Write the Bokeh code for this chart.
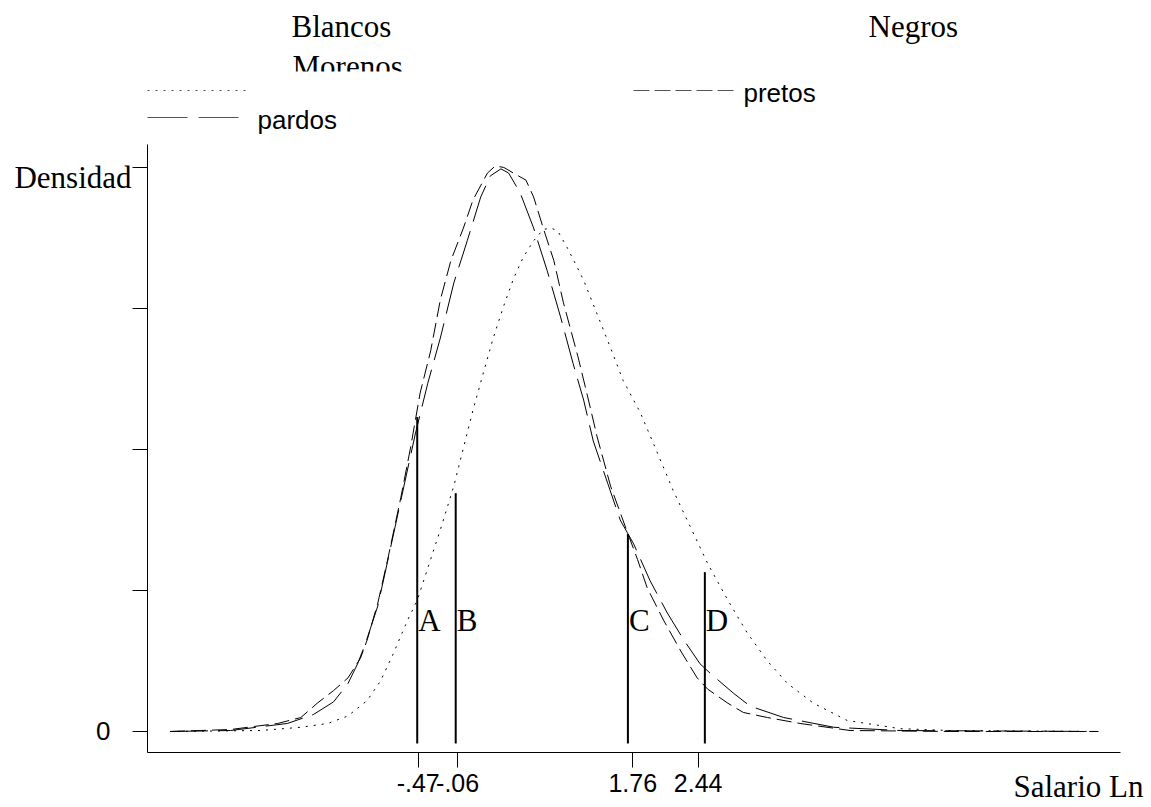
from bokeh.plotting import figure
from bokeh.layouts import column
from bokeh.models import Range1d, FixedTicker, Label
from bokeh.embed import file_html
from bokeh.resources import INLINE
from bokeh.core.properties import value

# ---- data ----
x_blancos = [-3.05, -2.11, -1.69, -1.41, -1.20, -1.00, -0.86, -0.73, -0.58, -0.48, -0.24, -0.10, 0.00, 0.10,
             0.21, 0.31, 0.42, 0.52, 0.62, 0.73, 0.83, 0.91, 0.98, 1.08, 1.14, 1.25, 1.39, 1.53, 1.66, 1.84,
             2.02, 2.18, 2.36, 2.54, 2.75, 2.95, 3.16, 3.37, 3.64, 3.99, 4.54, 5.06, 6.60]
y_blancos = [0.0, 0.0007, 0.003, 0.0057, 0.011, 0.022, 0.036, 0.055, 0.079, 0.093, 0.143, 0.174, 0.201, 0.228,
             0.255, 0.279, 0.302, 0.321, 0.336, 0.348, 0.356, 0.357, 0.355, 0.343, 0.335, 0.320, 0.296, 0.272,
             0.249, 0.226, 0.197, 0.171, 0.145, 0.119, 0.093, 0.070, 0.050, 0.034, 0.020, 0.0078, 0.002, 0.0007, 0.0]

x_pretos = [-3.05, -2.42, -1.93, -1.69, -1.52, -1.35, -1.20, -1.07, -1.00, -0.89, -0.79, -0.65, -0.55, -0.45,
            -0.34, -0.24, -0.13, 0.00, 0.10, 0.25, 0.33, 0.42, 0.52, 0.65, 0.73, 0.83, 0.94, 1.04, 1.19, 1.29,
            1.39, 1.53, 1.69, 1.81, 1.91, 2.08, 2.26, 2.43, 2.54, 2.75, 2.91, 3.16, 3.50, 4.02, 5.06, 6.60]
y_pretos = [0.0, 0.0014, 0.0057, 0.0099, 0.020, 0.029, 0.038, 0.052, 0.065, 0.091, 0.121, 0.166, 0.201, 0.240,
            0.270, 0.306, 0.334, 0.357, 0.377, 0.396, 0.401, 0.400, 0.396, 0.391, 0.379, 0.357, 0.334, 0.304,
            0.266, 0.238, 0.209, 0.174, 0.144, 0.122, 0.102, 0.079, 0.057, 0.038, 0.030, 0.020, 0.0135, 0.0099,
            0.0057, 0.0007, 0.0, 0.0]

x_pardos = [-3.05, -2.42, -1.83, -1.56, -1.35, -1.20, -1.10, -1.02, -0.89, -0.79, -0.65, -0.50, -0.37, -0.24,
            -0.10, 0.04, 0.18, 0.28, 0.39, 0.47, 0.59, 0.73, 0.87, 1.01, 1.14, 1.25, 1.35, 1.50, 1.63, 1.77,
            1.94, 2.12, 2.29, 2.46, 2.57, 2.81, 2.98, 3.33, 3.85, 4.54, 6.60]
y_pardos = [0.0, 0.0007, 0.0057, 0.012, 0.021, 0.034, 0.048, 0.062, 0.089, 0.120, 0.164, 0.211, 0.247, 0.279,
            0.318, 0.348, 0.379, 0.394, 0.399, 0.396, 0.382, 0.357, 0.327, 0.294, 0.261, 0.235, 0.206, 0.176,
            0.150, 0.133, 0.107, 0.084, 0.065, 0.048, 0.041, 0.027, 0.018, 0.0099, 0.003, 0.0007, 0.0]

cut_x = [-0.48, -0.08, 1.71, 2.51]
cut_top = [0.223, 0.169, 0.140, 0.113]
cut_bottom = -0.0085
cut_labels = ["A", "B", "C", "D"]
cut_label_y = 0.0787

x_ticks = [-0.47, -0.06, 1.76, 2.44]
x_tick_labels = ["-.47", "-.06", "1.76", "2.44"]
y_ticks = [0.0, 0.1, 0.2, 0.3, 0.4]
y_tick_labels = ["0", "", "", "", ""]

# axis extents (data units)
x_axis_lo, x_axis_hi = -3.284, 6.831
y_axis_lo, y_axis_hi = -0.0149, 0.4163

SERIF = "Liberation Serif"
SANS = "Liberation Sans"

# ---- legend strip (top) ----
leg = figure(width=1151, height=140, x_range=Range1d(0, 1151), y_range=Range1d(140, 0),
             output_backend="svg", toolbar_location=None, min_border=0,
             x_axis_location=None, y_axis_location=None)
leg.grid.visible = False
leg.outline_line_color = None

leg.text(x=[291], y=[26], text=["Blancos"], text_font=value(SERIF), text_font_size="31px",
         text_baseline="alphabetic", text_color="black")
leg.text(x=[292], y=[66], text=["Morenos"], text_font=value(SERIF), text_font_size="31px",
         text_baseline="alphabetic", text_color="black")
leg.text(x=[868], y=[26], text=["Negros"], text_font=value(SERIF), text_font_size="31px",
         text_baseline="alphabetic", text_color="black")
# mask clipping the bottom of "Morenos" as in the reference
leg.quad(left=[280], right=[440], top=[71], bottom=[86], fill_color="white", line_color=None)

leg.line(x=[147, 245], y=[90, 90], line_color="#555555", line_width=1, line_dash="2 6")
leg.line(x=[633, 735], y=[90, 90], line_color="#555555", line_width=1, line_dash="16 5")
leg.text(x=[743], y=[92], text=["pretos"], text_font=value(SANS), text_font_size="26px",
         text_baseline="alphabetic", text_color="black")
leg.line(x=[147, 238], y=[117, 117], line_color="#555555", line_width=1, line_dash="40 11")
leg.text(x=[257], y=[119], text=["pardos"], text_font=value(SANS), text_font_size="26px",
         text_baseline="alphabetic", text_color="black")

# ---- main chart: frame fills the canvas, axes at fixed locations ----
p = figure(width=1151, height=667, x_range=Range1d(-4.812, 7.153), y_range=Range1d(-0.0539, 0.4191),
           output_backend="svg", toolbar_location=None, min_border=0)
p.grid.visible = False
p.outline_line_color = None
p.background_fill_color = "white"

for ax in (p.xaxis[0], p.yaxis[0]):
    ax.axis_line_color = "black"
    ax.axis_line_width = 1
    ax.major_tick_line_color = "black"
    ax.major_tick_in = 0
    ax.major_tick_out = 15
    ax.minor_tick_line_color = None
    ax.major_label_text_font = SANS
    ax.major_label_text_color = "black"

p.xaxis.fixed_location = y_axis_lo
p.xaxis.bounds = (x_axis_lo, x_axis_hi)
p.xaxis.ticker = FixedTicker(ticks=x_ticks)
p.xaxis.major_label_overrides = dict(zip(x_ticks, x_tick_labels))
p.xaxis.major_label_text_font_size = "25px"
p.xaxis.major_label_standoff = 6

p.yaxis.fixed_location = x_axis_lo
p.yaxis.bounds = (y_axis_lo, y_axis_hi)
p.yaxis.ticker = FixedTicker(ticks=y_ticks)
p.yaxis.major_label_overrides = dict(zip(y_ticks, y_tick_labels))
p.yaxis.major_label_text_font_size = "26px"
p.yaxis.major_label_standoff = 22

p.line(x_blancos, y_blancos, line_color="black", line_width=1, line_dash="2 6")
p.line(x_pretos, y_pretos, line_color="black", line_width=1, line_dash="15 6")
p.line(x_pardos, y_pardos, line_color="black", line_width=1, line_dash="38 10")

p.segment(x0=cut_x, y0=[cut_bottom] * len(cut_x), x1=cut_x, y1=cut_top, line_color="black", line_width=2)
p.text(x=cut_x, y=[cut_label_y] * len(cut_x), text=cut_labels, x_offset=1, text_font=value(SERIF),
       text_font_size="31px", text_baseline="alphabetic", text_color="black")

p.add_layout(Label(x=-4.667, y=0.3929, text="Densidad", text_font=SERIF, text_font_size="31px",
                   text_baseline="alphabetic", text_color="black"))
p.add_layout(Label(x=5.718, y=-0.039, text="Salario Ln", text_font=SERIF, text_font_size="31px",
                   text_baseline="alphabetic", text_color="black"))

layout = column(leg, p, spacing=0)
open("out.html", "w").write(file_html(layout, INLINE))
